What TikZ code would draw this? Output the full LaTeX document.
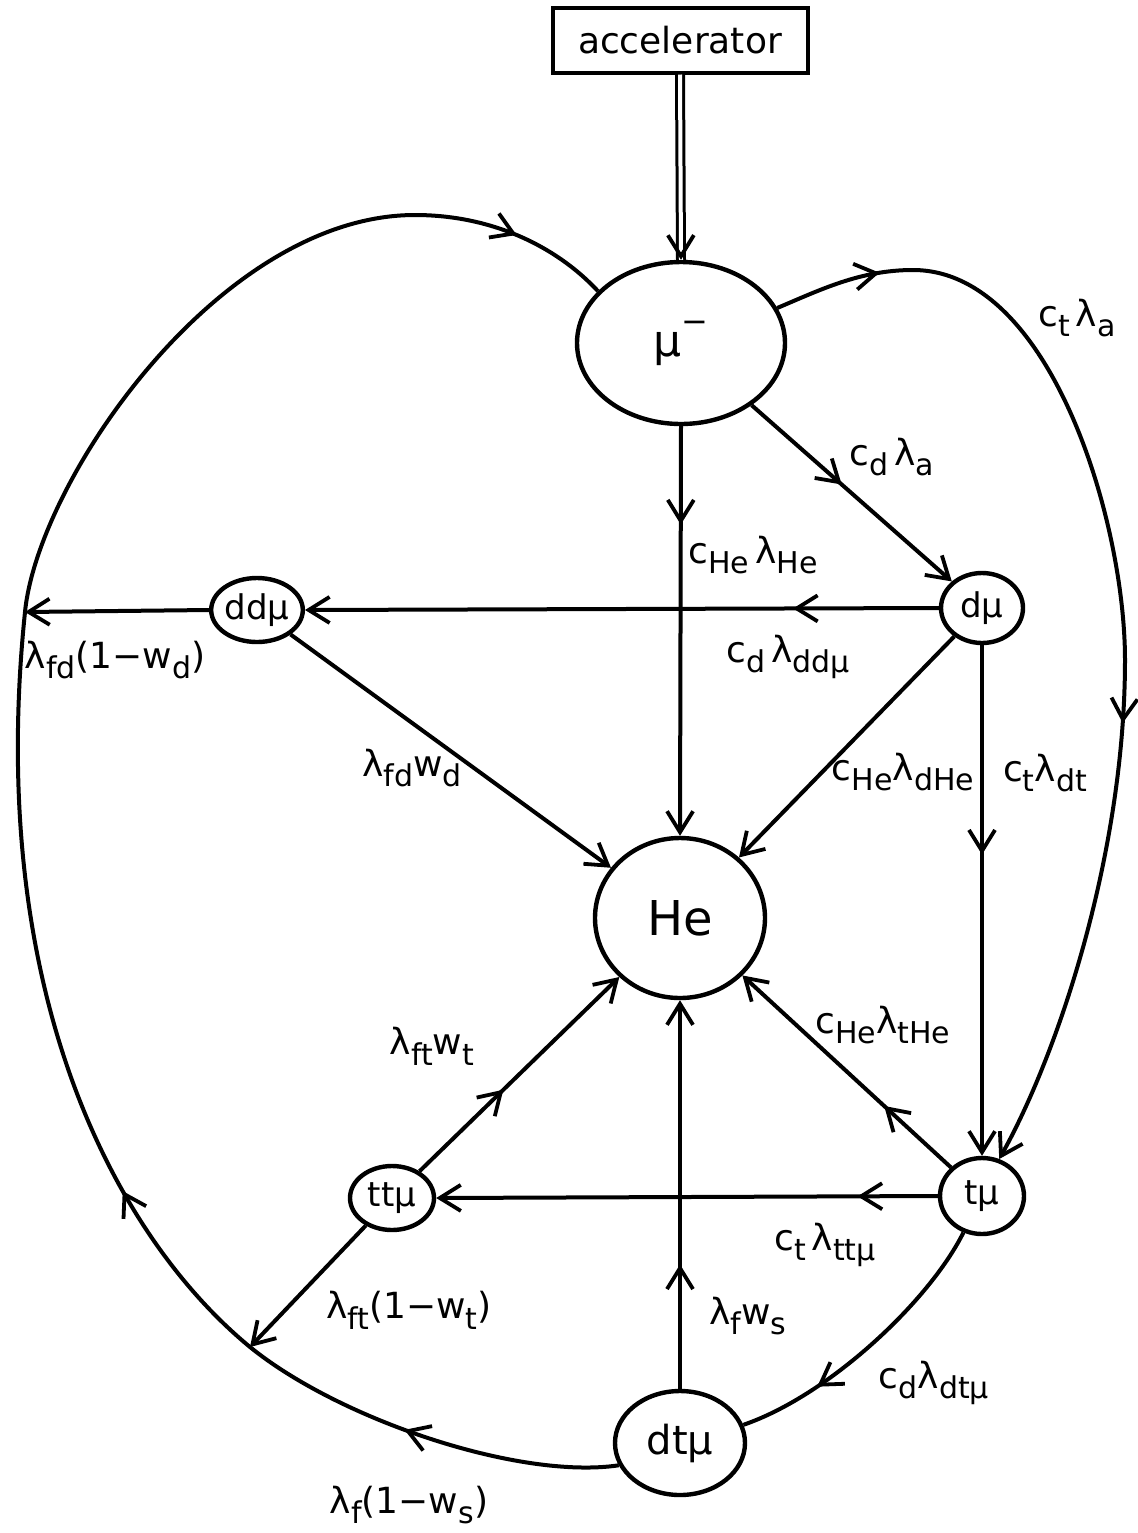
\documentclass[tikz,border=0pt]{standalone}
\usepackage{fontspec}
\setmainfont{DejaVu Sans}
\usetikzlibrary{shapes.geometric,arrows.meta,decorations.markings}
\newcommand{\lsub}[1]{\raisebox{-0.55ex}{\fontsize{15}{15}\selectfont #1}}
\newcommand{\lblfont}{\fontsize{18}{18}\selectfont}
\newcommand{\circfont}{\fontsize{17}{17}\selectfont}
\begin{document}
\begin{tikzpicture}[x=0.5pt,y=-0.5pt,
  >={Straight Barb[length=10.5pt,width=13pt,line width=1.9pt]},
  ln/.style={line width=2pt},
  st/.style={draw, ellipse, line width=2.2pt, inner sep=0pt, font=\circfont},
  marr/.style={postaction={decorate,decoration={markings,mark=at position #1 with {\arrow{>}}}}},
  lab/.style={font=\lblfont, inner sep=0pt},
]
\useasboundingbox (0,0) rectangle (1137,1533);

% nodes
\node[draw, line width=2pt, minimum width=127.5pt, minimum height=32.5pt, inner sep=0pt,
      font=\fontsize{18}{18}\selectfont] (acc) at (680,40) {accelerator};
\node[st, minimum width=104pt, minimum height=81pt, font=\fontsize{22}{22}\selectfont] (mu) at (681,343)
     {μ\raisebox{0.55em}{\fontsize{16}{16}\selectfont −}};
\node[st, minimum width=85pt, minimum height=80pt, font=\fontsize{24}{24}\selectfont] (He) at (680,918) {He};
\node[st, minimum width=41pt, minimum height=35pt] (dmu) at (982,608) {dμ};
\node[st, minimum width=42pt, minimum height=32pt] (ddmu) at (257,610) {ddμ};
\node[st, minimum width=42pt, minimum height=38pt] (tmu) at (982,1196) {tμ};
\node[st, minimum width=42pt, minimum height=32pt] (ttmu) at (392,1198) {ttμ};
\node[st, minimum width=65pt, minimum height=52pt, font=\fontsize{20}{20}\selectfont] (dtmu) at (680,1443) {dtμ};

\coordinate (jd) at (25,612);
\coordinate (jt) at (250,1347);

% accelerator feed
\draw[line width=1.5pt, double distance=2pt] (acc.south) -- (mu.north);
\path[postaction={decorate,decoration={markings,mark=at position 1 with {\arrow{>}}}}] (acc.south) -- (mu.north);

% straight connectors
\draw[ln, marr=0.24, ->] (mu.south) -- (He.north);
\draw[ln, marr=0.45, ->] (mu) -- (dmu);
\draw[ln, marr=0.23, ->] (dmu.west) -- (ddmu.east);
\draw[ln, ->] (ddmu.west) -- (jd);
\draw[ln, ->] (ddmu) -- (He);
\draw[ln, ->] (dmu) -- (He);
\draw[ln, marr=0.41, ->] (dmu.south) -- (tmu.north);
\draw[ln, marr=0.32, ->] (tmu) -- (He);
\draw[ln, marr=0.16, ->] (tmu.west) -- (ttmu.east);
\draw[ln, marr=0.42, ->] (ttmu) -- (He);
\draw[ln, ->] (ttmu) -- (jt);
\draw[ln, marr=0.32, ->] (dtmu.north) -- (He.south);

% right arc mu -> tmu
\draw[ln, marr=0.095, marr=0.6, ->] (mu.20)
  .. controls (820,290) and (860,270) .. (913,270)
  .. controls (1050,270) and (1125,520) .. (1125,660)
  .. controls (1125,850) and (1060,1050) .. (tmu.65);

% left loop dtmu -> mu
\draw[ln, marr=0.11, marr=0.30, marr=0.95] (dtmu.200)
  .. controls (520,1480) and (340,1420) .. (jt)
  .. controls (120,1240) and (-15,1000) .. (jd)
  .. controls (38,480) and (220,215) .. (415,215)
  .. controls (490,215) and (555,245) .. (mu.148);

% tmu -> dtmu
\draw[ln, marr=0.72] (tmu.243) .. controls (930,1300) and (830,1395) .. (dtmu.16);

% labels
\node[lab] (l1) at (1077,318) {c\lsub{t}\,λ\lsub{a}};
\node[lab] (l2) at (892,457) {c\lsub{d}\,λ\lsub{a}};
\node[lab] (l3) at (753,555) {c\lsub{He}\,λ\lsub{He}};
\node[lab] (l4) at (788,657) {c\lsub{d}\,λ\lsub{ddμ}};
\node[lab] (l5) at (115,660) {λ\lsub{fd}(1−w\lsub{d})};
\node[lab] (l6) at (412,768) {λ\lsub{fd}w\lsub{d}};
\node[lab] (l7) at (903,772) {c\lsub{He}λ\lsub{dHe}};
\node[lab] (l8) at (1045,773) {c\lsub{t}λ\lsub{dt}};
\node[lab] (l9) at (883,1025) {c\lsub{He}λ\lsub{tHe}};
\node[lab] (l10) at (432,1046) {λ\lsub{ft}w\lsub{t}};
\node[lab] (l11) at (825,1245) {c\lsub{t}\,λ\lsub{ttμ}};
\node[lab] (l12) at (409,1310) {λ\lsub{ft}(1−w\lsub{t})};
\node[lab] (l13) at (748,1316) {λ\lsub{f}w\lsub{s}};
\node[lab] (l14) at (934,1383) {c\lsub{d}λ\lsub{dtμ}};
\node[lab] (l15) at (409,1505) {λ\lsub{f}(1−w\lsub{s})};
\end{tikzpicture}
\end{document}
